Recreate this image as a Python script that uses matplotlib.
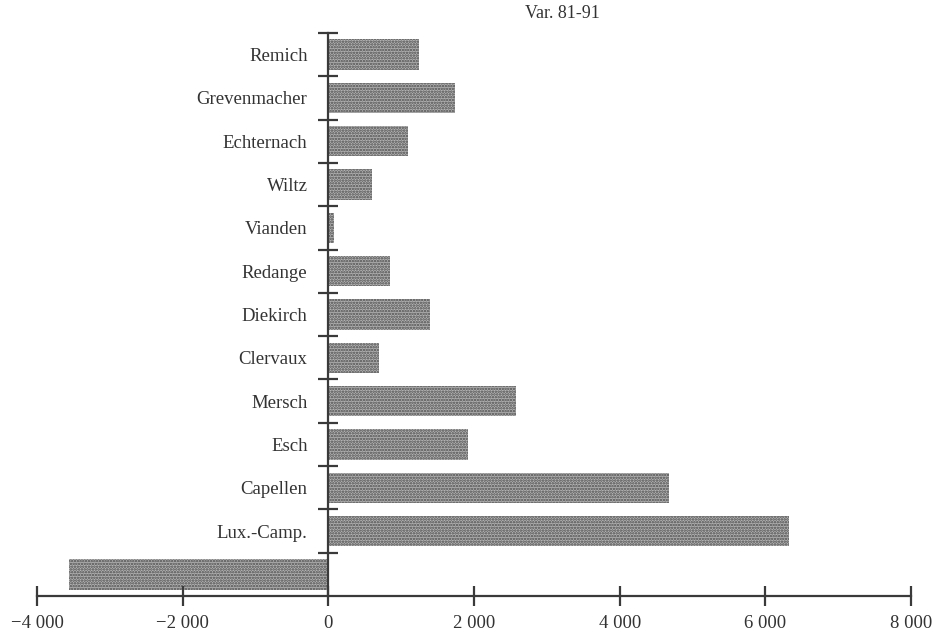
import matplotlib
matplotlib.use("Agg")
import matplotlib.pyplot as plt
import numpy as np

categories = ["Remich", "Grevenmacher", "Echternach", "Wiltz", "Vianden", "Redange",
              "Diekirch", "Clervaux", "Mersch", "Esch", "Capellen", "Lux.-Camp.", ""]
values = [1240, 1740, 1100, 600, 80, 840, 1400, 690, 2580, 1920, 4680, 6320, -3560]
xticks = [-4000, -2000, 0, 2000, 4000, 6000, 8000]
xtick_labels = ["\u22124 000", "\u22122 000", "0", "2 000", "4 000", "6 000", "8 000"]
title = "Var. 81-91"

plt.rcParams['font.family'] = ['Liberation Serif', 'DejaVu Serif']
plt.rcParams['hatch.linewidth'] = 1.2

fig = plt.figure(figsize=(9.4, 6.34), dpi=100)
ax = fig.add_axes([37/940, 38/634, (911-37)/940, (601-38)/634])

n = len(categories)
ypos = np.arange(n)[::-1]  # top first
ax.barh(ypos, values, height=0.7, left=0, facecolor="#b4b4b4", edgecolor="#4a4a4a",
        hatch="......", linewidth=0)

ax.set_xlim(-4000, 8000)
ax.set_ylim(-0.5, n - 0.5)

axcol = "#3a3a3a"
for s in ["top", "right"]:
    ax.spines[s].set_visible(False)
ax.spines["left"].set_position(("data", 0))
ax.spines["left"].set_color(axcol)
ax.spines["left"].set_linewidth(1.6)
ax.spines["bottom"].set_color(axcol)
ax.spines["bottom"].set_linewidth(1.6)

ax.set_xticks(xticks)
ax.set_xticklabels(xtick_labels, fontsize=13.5, color="#333333")
ax.tick_params(axis="x", direction="inout", length=14, width=1.6, color=axcol, pad=7)

# y-axis boundary ticks
ax.set_yticks(np.arange(n) + 0.5, minor=False)
ax.set_yticklabels([])
ax.tick_params(axis="y", which="major", direction="inout", length=15, width=1.6, color=axcol)
ax.set_yticks(ypos, minor=True)
ax.set_yticklabels(categories, minor=True, fontsize=13.5, color="#333333")
ax.tick_params(axis="y", which="minor", length=0, pad=15)

fig.text(562/940, 1 - 14/634, title, ha="center", va="center", fontsize=13, color="#333333")

fig.savefig("out.png", dpi=100, facecolor="white")
